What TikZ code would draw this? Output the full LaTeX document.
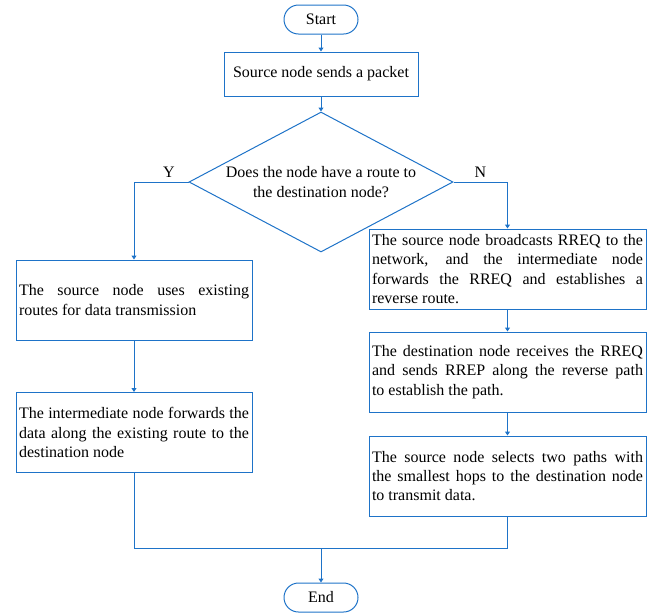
\documentclass[tikz,border=0pt]{standalone}
\usepackage{fontspec}
\setmainfont{Liberation Serif}
\usepackage{tikz}
\usetikzlibrary{shapes.geometric,arrows.meta}
\definecolor{flowblue}{RGB}{30,115,200}
\tikzset{
  flowterm/.style={draw=flowblue,line width=1pt,rounded corners=14.5pt,
    minimum width=74pt,minimum height=29pt,inner sep=0pt},
  flowbox/.style={draw=flowblue,line width=1pt,inner xsep=3pt,inner ysep=0pt,
    align=justify,minimum height=80pt},
  flowdecision/.style={draw=flowblue,line width=1pt,diamond,
    minimum width=264pt,minimum height=140pt,inner sep=0pt},
  flowline/.style={draw=flowblue,line width=1pt},
  flowarrow/.style={flowline,-{Triangle[length=4pt,width=5pt]}},
  every picture/.style={font=\fontsize{16}{19.3}\selectfont}
}

\begin{document}
\begin{tikzpicture}[x=1pt,y=-1pt]
  \useasboundingbox (0,0) rectangle (660,614);
  \node[flowterm] (start) at (321,19.5) {Start};
  \node[flowbox,align=center,minimum width=194pt,minimum height=44pt]
    (send) at (321,74) {Source node sends a packet};
  \node[flowdecision] (route) at (321,182) {};
  \node[align=center] (routetext) at (route.center)
    {Does the node have a route to\\the destination node?};
  % left branch (Y)
  \node[flowbox,text width=230pt] (useold) at (134,300)
    {The source node uses existing\linebreak routes for data transmission};
  \node[flowbox,text width=230pt] (fwddata) at (134,432.5)
    {The intermediate node forwards the\linebreak data along the existing route to the\linebreak destination node};
  % right branch (N)
  \node[flowbox,text width=271pt] (bcast) at (507.5,269)
    {The source node broadcasts RREQ to the\linebreak network, and the intermediate node\linebreak forwards the RREQ and establishes a\linebreak reverse route.};
  \node[flowbox,text width=271pt] (rrep) at (507.5,372)
    {The destination node receives the RREQ\linebreak and sends RREP along the reverse path\linebreak to establish the path.};
  \node[flowbox,text width=271pt] (select) at (507.5,476)
    {The source node selects two paths with\linebreak the smallest hops to the destination node\linebreak to transmit data.};
  \node[flowterm] (finish) at (321,597.5) {End};
  \coordinate (join) at (321,548);

  \draw[flowarrow] (start) -- (send);
  \draw[flowarrow] (send) -- (route);
  \draw[flowarrow] (route.west) -| (useold.north)
    node[pos=0.18,above=1pt] {Y};
  \draw[flowarrow] (route.east) -| (bcast.north)
    node[pos=0.25,above=1pt] {N};
  \draw[flowarrow] (useold) -- (fwddata);
  \draw[flowarrow] (bcast) -- (rrep);
  \draw[flowarrow] (rrep) -- (select);
  \draw[flowline] (fwddata.south) |- (join) -| (select.south);
  \draw[flowarrow] (join) -- (finish);
\end{tikzpicture}
\end{document}
